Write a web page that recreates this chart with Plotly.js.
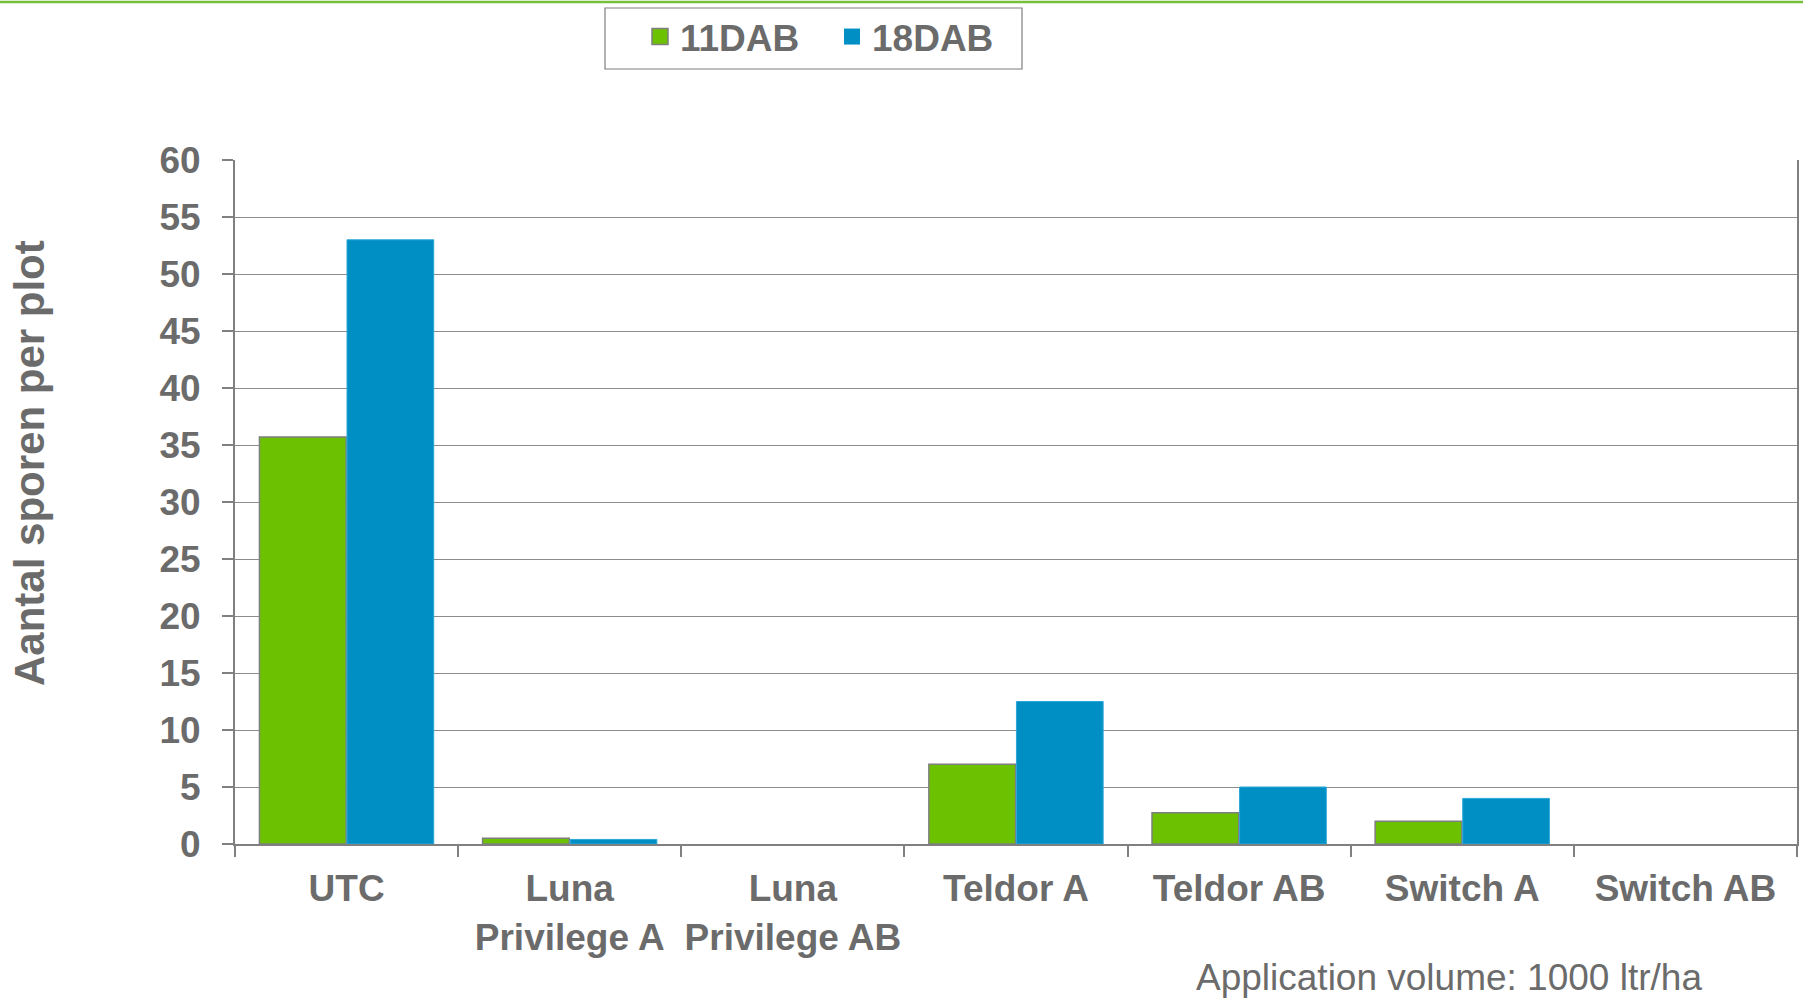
<!DOCTYPE html>
<html>
<head>
<meta charset="utf-8">
<script src="https://cdn.plot.ly/plotly-3.0.1.min.js"></script>
<style>html,body{margin:0;padding:0;background:#fff;}#chart{width:1803px;height:1001px;}</style>
</head>
<body>
<div id="chart"></div>
<script>
const categories = ["UTC", "Luna<br>Privilege A", "Luna<br>Privilege AB", "Teldor A", "Teldor AB", "Switch A", "Switch AB"];
const seriesNames = ["11DAB", "18DAB"];
const dab11 = [35.7, 0.5, 0, 7.0, 2.75, 2.0, 0];
const dab18 = [53.0, 0.4, 0, 12.5, 5.0, 4.0, 0];
const yTicks = [0, 5, 10, 15, 20, 25, 30, 35, 40, 45, 50, 55, 60];
const yTitle = "Aantal sporen per plot";
const note = "Application volume: 1000 ltr/ha";

const textColor = "#6b6b6b";
const fontFam = "Liberation Sans, Arial, sans-serif";
const greenFill = "#6cc200", greenLine = "#7f7f7f";
const blueFill = "#008fc5", blueLine = "#2aa8d8";

const traces = [
  {type: "bar", name: seriesNames[0], x: categories, y: dab11, showlegend: false, legendgroup: "a",
   marker: {color: greenFill, line: {color: greenLine, width: dab11.map(v => v > 0 ? 1.5 : 0)}}},
  {type: "bar", name: seriesNames[1], x: categories, y: dab18, showlegend: false, legendgroup: "b",
   marker: {color: blueFill, line: {color: blueLine, width: dab18.map(v => v > 0 ? 1 : 0)}}},
  {type: "scatter", mode: "markers", name: seriesNames[0], x: [null], y: [null], legendgroup: "a",
   hoverinfo: "skip", marker: {symbol: "square", size: 16, color: greenFill, line: {color: greenLine, width: 1.5}}},
  {type: "scatter", mode: "markers", name: seriesNames[1], x: [null], y: [null], legendgroup: "b",
   hoverinfo: "skip", marker: {symbol: "square", size: 16, color: blueFill, line: {color: blueFill, width: 0}}}
];

// plot area in pixels: x 235..1797, y 160..844
const px = v => (v - 235) / 1562;
const py = v => (844 - v) / 684;

const layout = {
  width: 1803, height: 1001,
  paper_bgcolor: "#fff", plot_bgcolor: "#fff",
  margin: {l: 235, r: 6, t: 160, b: 157},
  barmode: "group", bargap: 0.215, bargroupgap: 0.01,
  font: {family: fontFam, color: textColor, size: 37},
  showlegend: true,
  legend: {
    orientation: "h", xref: "container", yref: "container",
    x: 640 / 1803, xanchor: "left", y: 1 - 6 / 1001, yanchor: "top",
    borderwidth: 0, bgcolor: "rgba(0,0,0,0)",
    font: {family: fontFam, size: 37, color: textColor, weight: "bold"},
    itemwidth: 30, itemsizing: "trace", tracegroupgap: 0,
    entrywidth: 147
  },
  xaxis: {
    type: "category", tickangle: 0,
    showline: true, linecolor: "#808080", linewidth: 2, mirror: false,
    ticks: "outside", tickson: "boundaries", ticklen: 11, tickcolor: "#808080", tickwidth: 1.5,
    showgrid: false, zeroline: false,
    tickfont: {family: fontFam, size: 37, color: textColor, weight: "bold"},
    ticklabelstandoff: 11,
    automargin: false
  },
  yaxis: {
    range: [0, 60], tickvals: yTicks, ticktext: yTicks.map(String),
    showline: true, linecolor: "#808080", linewidth: 2, mirror: true,
    ticks: "outside", ticklen: 11, tickcolor: "#808080", tickwidth: 1.5,
    showgrid: true, gridcolor: "#8c8c8c", gridwidth: 1.2, zeroline: false,
    tickfont: {family: fontFam, size: 37, color: textColor, weight: "bold"},
    ticklabelstandoff: 14,
    automargin: false
  },
  annotations: [
    {text: yTitle, xref: "paper", yref: "paper", x: px(29), xanchor: "center",
     y: py(463), yanchor: "middle", textangle: -90, showarrow: false,
     font: {family: fontFam, size: 42, color: textColor, weight: "bold"}},
    {text: note, xref: "paper", yref: "paper",
     x: px(1194), xanchor: "left", y: py(977), yanchor: "middle", showarrow: false,
     font: {family: fontFam, size: 37, color: textColor}}
  ],
  shapes: [
    {type: "line", xref: "paper", yref: "paper", x0: px(-5), x1: px(1810), y0: py(2), y1: py(2),
     line: {color: "#77c13a", width: 2.5}},
    {type: "rect", xref: "paper", yref: "paper", x0: px(605), x1: px(1022), y0: py(8), y1: py(69),
     line: {color: "#7f7f7f", width: 1.2}, fillcolor: "rgba(0,0,0,0)"}
  ]
};

Plotly.newPlot("chart", traces, layout, {displayModeBar: false, responsive: false});
</script>
</body>
</html>
